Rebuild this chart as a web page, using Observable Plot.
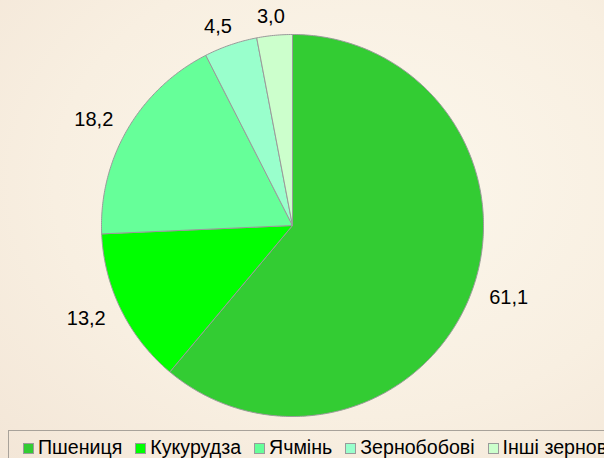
<!DOCTYPE html>
<html>
<head>
<meta charset="utf-8">
<script src="https://cdn.jsdelivr.net/npm/d3@7"></script>
<script src="https://cdn.jsdelivr.net/npm/@observablehq/plot@0.6"></script>
<style>
  html, body { margin: 0; padding: 0; }
  body { width: 604px; height: 458px; overflow: hidden; background: #f8efe1; font-family: "Liberation Sans", Arial, sans-serif; }
  #wrap { position: relative; width: 604px; height: 458px; overflow: hidden;
    background: radial-gradient(ellipse at 60% 40%, #fcf7ec 0%, #f8efe1 60%, #f3e6d7 100%); }
  #chart svg { display: block; }
  #legend { position: absolute; left: 8px; top: 430px; width: 760px; height: 40px;
    border: 1px solid #a8a29a; box-sizing: border-box; display: flex; align-items: flex-start;
    padding-left: 14px; padding-top: 5px; font-family: "Liberation Sans", Arial, sans-serif; font-size: 19.6px; line-height: 22px; color: #000; white-space: nowrap; }
  .item { display: flex; align-items: center; margin-right: 13px; }
  .sw { width: 9px; height: 9px; border: 1px solid #9a9a9a; margin-right: 4px; margin-top: 3px; }
</style>
</head>
<body>
<div id="wrap">
  <div id="chart"></div>
  <div id="legend"></div>
</div>
<script>
const categories = ["Пшениця", "Кукурудза", "Ячмінь", "Зернобобові", "Інші зернові"];
const values = [61.1, 13.2, 18.2, 4.5, 3.0];
const labels = ["61,1", "13,2", "18,2", "4,5", "3,0"];
const colors = ["#33cc33", "#00ff00", "#66ff99", "#99ffcc", "#ccffcc"];

const R = 191, CX = 292, CY = 225;
const arcs = d3.pie().sort(null).value(d => d.value)(
  categories.map((name, i) => ({name, value: values[i], label: labels[i]}))
);

// polygon points for each slice (center + arc samples)
const slicePts = [];
for (const a of arcs) {
  const name = a.data.name;
  slicePts.push({name, x: 0, y: 0});
  const n = Math.max(4, Math.ceil((a.endAngle - a.startAngle) / 0.01));
  for (let k = 0; k <= n; k++) {
    const t = a.startAngle + (a.endAngle - a.startAngle) * k / n;
    slicePts.push({name, x: Math.sin(t), y: Math.cos(t)});
  }
  slicePts.push({name, x: 0, y: 0});
}

const labelPts = arcs.map(a => {
  const m = (a.startAngle + a.endAngle) / 2;
  return {label: a.data.label, x: 230 / R * Math.sin(m), y: 210 / R * Math.cos(m)};
});

const chart = Plot.plot({
  width: 604,
  height: 430,
  margin: 0,
  style: {background: "transparent", overflow: "visible"},
  x: {domain: [-1, 1], range: [CX - R, CX + R], axis: null},
  y: {domain: [-1, 1], range: [CY + R, CY - R], axis: null},
  color: {domain: categories, range: colors},
  marks: [
    Plot.line(slicePts, {x: "x", y: "y", z: "name", fill: "name", stroke: "#9a9a9a", strokeWidth: 1, curve: "linear"}),
    Plot.text(labelPts, {x: "x", y: "y", text: "label", fontSize: 20, fontFamily: "Liberation Sans, Arial, sans-serif", fill: "#000", textAnchor: "middle"})
  ]
});
document.getElementById("chart").appendChild(chart);

const legend = document.getElementById("legend");
categories.forEach((c, i) => {
  const it = document.createElement("div");
  it.className = "item";
  const sw = document.createElement("div");
  sw.className = "sw";
  sw.style.background = colors[i];
  const tx = document.createElement("span");
  tx.textContent = c;
  it.appendChild(sw);
  it.appendChild(tx);
  legend.appendChild(it);
});
</script>
</body>
</html>
